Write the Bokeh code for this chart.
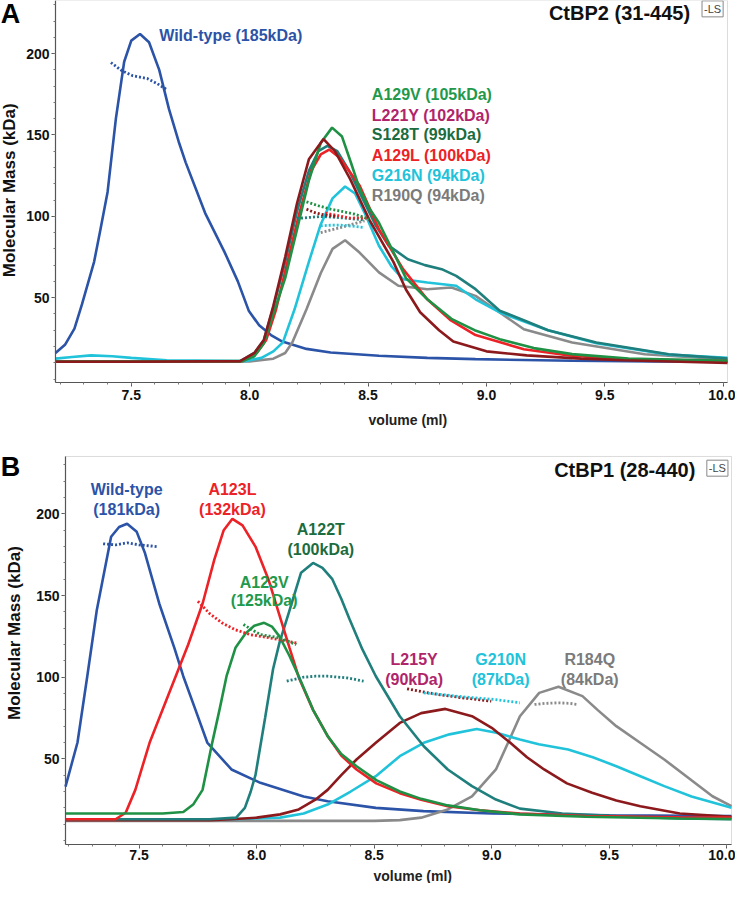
import math
from bokeh.plotting import figure
from bokeh.models import Label, FixedTicker, NumeralTickFormatter, Range1d, BoxAnnotation
from bokeh.layouts import column
from bokeh.embed import file_html
from bokeh.resources import INLINE

# ---------------- Panel A : CtBP2 (31-445) ----------------
a_wt_v = [7.18, 7.22, 7.26, 7.292, 7.343, 7.37, 7.40, 7.435, 7.47, 7.50, 7.537, 7.575, 7.618, 7.659, 7.70, 7.73, 7.812, 7.894, 7.95, 7.996, 8.04, 8.09, 8.138, 8.24, 8.342, 8.546, 8.75, 8.954, 9.362, 9.70, 10.018]
a_wt_m = [16, 21, 31, 46, 72, 92, 115, 160, 195, 208, 212, 207, 190, 166, 146, 133, 102, 78, 60, 42, 33, 27, 23, 18.5, 16.3, 14.3, 13, 12.2, 11.2, 10.8, 10.6]

a_v129v_v = [7.18, 7.5, 7.97, 8.02, 8.06, 8.10, 8.15, 8.20, 8.25, 8.30, 8.348, 8.39, 8.43, 8.464, 8.505, 8.546, 8.607, 8.66, 8.75, 8.852, 8.95, 9.056, 9.20, 9.362, 9.60, 10.018]
a_v129v_m = [10.8, 10.8, 11, 14, 22, 40, 62, 92, 122, 145, 154.5, 149, 132, 117, 105, 96, 78, 62, 49, 37, 30, 24.5, 19, 15.3, 12.5, 11.2]

a_l221y_v = [7.18, 7.5, 7.96, 8.02, 8.06, 8.10, 8.15, 8.20, 8.25, 8.312, 8.36, 8.424, 8.505, 8.607, 8.66, 8.72, 8.80, 8.86, 9.00, 9.17, 9.40, 9.58, 10.018]
a_l221y_m = [10.6, 10.6, 11, 16, 24, 45, 75, 108, 135, 147.5, 140, 123, 98, 72, 55, 41, 30, 23, 17, 14.5, 12.5, 11.5, 9.8]

a_l129l_v = [7.18, 7.5, 7.97, 8.03, 8.07, 8.11, 8.16, 8.21, 8.26, 8.30, 8.336, 8.38, 8.464, 8.546, 8.648, 8.75, 8.85, 8.954, 9.158, 9.35, 9.566, 10.018]
a_l129l_m = [10.8, 10.8, 11, 16, 24, 42, 72, 102, 128, 138, 141, 136, 119, 92, 67.5, 49, 36, 27, 18.3, 14.5, 12.2, 11]

a_s128t_v = [7.18, 7.5, 7.96, 8.02, 8.06, 8.10, 8.15, 8.20, 8.25, 8.29, 8.328, 8.37, 8.42, 8.47, 8.53, 8.587, 8.668, 8.74, 8.811, 8.872, 8.954, 9.056, 9.16, 9.26, 9.464, 9.77, 10.018]
a_s128t_m = [10.8, 10.8, 11, 16, 24, 44, 72, 103, 128, 140, 143.3, 140, 128, 113, 95, 82, 73.6, 70, 67.5, 63.4, 55.2, 42, 36, 30, 22.4, 15.2, 12.5]

a_g216n_v = [7.18, 7.25, 7.33, 7.42, 7.50, 7.65, 7.98, 8.05, 8.10, 8.14, 8.19, 8.25, 8.30, 8.35, 8.403, 8.445, 8.485, 8.546, 8.60, 8.648, 8.75, 8.872, 8.954, 9.056, 9.26, 9.464, 9.77, 10.018]
a_g216n_m = [12.5, 13.5, 14.5, 14, 13, 11.5, 11, 13, 17, 22.4, 43, 72, 95, 111, 118.3, 114, 102.3, 81.9, 69, 61.3, 59.3, 57.3, 49, 40.9, 30, 22, 15, 13]

a_r190q_v = [7.18, 7.5, 8.0, 8.10, 8.15, 8.18, 8.24, 8.30, 8.35, 8.403, 8.464, 8.546, 8.628, 8.75, 8.852, 8.954, 9.056, 9.158, 9.362, 9.668, 10.018]
a_r190q_m = [10.6, 10.6, 10.8, 12.5, 16, 22.4, 42.9, 65, 80, 85.3, 77.7, 65.5, 57.3, 55.2, 56.2, 51.1, 40.9, 30.6, 22.4, 15.2, 12]

# molar mass (dotted) traces, panel A
a_wt_mm_v = [7.414, 7.46, 7.506, 7.567, 7.61, 7.649]
a_wt_mm_m = [194.5, 189.5, 186.4, 184.7, 181.5, 178]
a_v129v_mm_v = [8.24, 8.29, 8.342, 8.39, 8.444, 8.505]
a_v129v_mm_m = [108.9, 106.5, 104.4, 103, 101.3, 98.2]
a_l221y_mm_v = [8.24, 8.27, 8.30, 8.33, 8.363]
a_l221y_mm_m = [104.4, 102.5, 101.3, 100.5, 100]
a_l129l_mm_v = [8.32, 8.37, 8.424, 8.46, 8.495]
a_l129l_mm_m = [102, 100.5, 98.9, 99, 98.9]
a_s128t_mm_v = [8.20, 8.25, 8.30, 8.35, 8.403, 8.445, 8.485]
a_s128t_mm_m = [98.6, 99.3, 99.9, 99.5, 98.9, 98.3, 97.8]
a_g216n_mm_v = [8.30, 8.34, 8.383, 8.43, 8.485]
a_g216n_mm_m = [94.2, 94.5, 94.6, 94, 93.1]
a_r190q_mm_v = [8.30, 8.34, 8.383, 8.43, 8.485]
a_r190q_mm_m = [90, 91.5, 93, 95, 97.2]

a_labels = ["A129V (105kDa)", "L221Y (102kDa)", "S128T (99kDa)", "A129L (100kDa)", "G216N (94kDa)", "R190Q (94kDa)"]
a_wt_label = "Wild-type (185kDa)"

# ---------------- Panel B : CtBP1 (28-440) ----------------
b_wt_v = [7.187, 7.238, 7.279, 7.32, 7.381, 7.415, 7.449, 7.49, 7.525, 7.586, 7.65, 7.688, 7.74, 7.79, 7.893, 8.016, 8.20, 8.302, 8.507, 8.71, 9.0, 9.5, 10.02]
b_wt_m = [33, 60, 100, 141, 186, 192, 194, 189, 176, 145, 118, 100.6, 80, 60, 43.5, 35.3, 27, 24, 20, 18, 16.5, 15.5, 15]

b_a123l_v = [7.187, 7.40, 7.443, 7.484, 7.545, 7.627, 7.709, 7.77, 7.82, 7.86, 7.897, 7.94, 7.995, 8.05, 8.097, 8.14, 8.179, 8.24, 8.302, 8.36, 8.425, 8.509, 8.609, 8.70, 8.813, 8.95, 9.12, 9.40, 9.80, 10.02]
b_a123l_m = [13, 13, 17, 31, 60, 90, 120, 145, 172, 190, 197, 193, 180, 160, 138, 118, 100, 80, 64, 52, 43.5, 35, 29, 25, 21, 18.5, 16.5, 15, 14.2, 14]

b_a123v_v = [7.187, 7.60, 7.688, 7.73, 7.77, 7.811, 7.842, 7.872, 7.91, 7.954, 7.99, 8.032, 8.065, 8.097, 8.14, 8.179, 8.24, 8.302, 8.36, 8.425, 8.509, 8.609, 8.70, 8.813, 8.95, 9.12, 9.40, 9.80, 10.02]
b_a123v_m = [16.5, 16.5, 17.5, 22, 31, 59.8, 80, 100.6, 118, 127, 131.5, 133.3, 131, 125, 113, 100.6, 80, 63.9, 53, 45.5, 37, 30, 25.5, 21.5, 18.5, 16, 14.5, 13.5, 13.2]

b_a122t_v = [7.187, 7.80, 7.913, 7.95, 7.975, 7.995, 8.036, 8.07, 8.097, 8.138, 8.189, 8.24, 8.28, 8.322, 8.36, 8.394, 8.45, 8.507, 8.609, 8.711, 8.813, 8.916, 9.018, 9.12, 9.30, 9.53, 9.80, 10.02]
b_a122t_m = [13, 13, 14, 20, 30, 40, 75, 105, 121, 140, 164, 170, 167, 160, 148, 136, 117, 100.6, 76.1, 57.7, 43.5, 33.3, 25.1, 19.5, 16.5, 14.9, 13.5, 13]

b_l215y_v = [7.187, 7.80, 7.893, 8.0, 8.10, 8.179, 8.25, 8.302, 8.36, 8.425, 8.507, 8.609, 8.70, 8.803, 8.916, 9.0, 9.079, 9.15, 9.223, 9.32, 9.427, 9.53, 9.632, 9.80, 10.02]
b_l215y_m = [12.5, 12.5, 13, 14, 16, 19, 25, 31, 40, 49.6, 59.8, 72, 78, 80.6, 76.1, 69, 59.8, 51, 43.5, 35, 29.2, 24.5, 21, 16.5, 14.5]

b_g210n_v = [7.187, 7.90, 8.10, 8.20, 8.302, 8.40, 8.507, 8.609, 8.711, 8.82, 8.936, 9.02, 9.12, 9.20, 9.325, 9.43, 9.53, 9.63, 9.734, 9.85, 10.02]
b_g210n_m = [13, 13, 14, 16.5, 22, 30, 39.4, 51.6, 59.8, 65, 68.3, 66, 61.8, 59, 55.7, 51, 45.5, 39.5, 33.3, 27, 20]

b_r184q_v = [7.187, 8.50, 8.609, 8.70, 8.813, 8.916, 9.018, 9.07, 9.12, 9.202, 9.284, 9.386, 9.45, 9.53, 9.63, 9.734, 9.84, 9.939, 10.02]
b_r184q_m = [12, 12, 12.5, 14, 19, 27, 43.5, 60, 76.1, 90.4, 94.1, 88.4, 80, 70, 60, 49.6, 38, 27.1, 21]

b_wt_mm_v = [7.347, 7.40, 7.45, 7.50, 7.54, 7.576]
b_wt_mm_m = [181.7, 181, 182.3, 181, 180.5, 179.9]
b_a123l_mm_v = [7.75, 7.80, 7.852, 7.91, 7.975, 8.04, 8.097, 8.169]
b_a123l_mm_m = [146.5, 139, 133.3, 129, 126, 124.5, 123, 121]
b_a123v_mm_v = [7.944, 7.98, 8.016, 8.06, 8.097, 8.169]
b_a123v_mm_m = [132.3, 129, 126.1, 125, 124.1, 120]
b_a122t_mm_v = [8.128, 8.20, 8.25, 8.302, 8.384, 8.455]
b_a122t_mm_m = [97.6, 100, 100.6, 100.6, 99.6, 97.6]
b_l215y_mm_v = [8.64, 8.70, 8.772, 8.875, 8.998]
b_l215y_mm_m = [92.9, 91.2, 89.4, 87.4, 85.3]
b_g210n_mm_v = [8.711, 8.80, 8.875, 9.018, 9.12]
b_g210n_mm_m = [90.4, 89.2, 88, 86.3, 84.3]
b_r184q_mm_v = [9.182, 9.23, 9.284, 9.33, 9.366]
b_r184q_mm_m = [83.3, 84, 84.3, 84, 83.3]

x_ticks = [7.5, 8.0, 8.5, 9.0, 9.5, 10.0]
y_ticks = [50, 100, 150, 200]

# ---------------- styling ----------------
BLUE = "#2b53a7"
RED = "#ec2227"
GREEN = "#1f9145"
TEAL = "#1f7f7d"
MAROON = "#8c1a1c"
CYAN = "#21c3da"
GRAY = "#8a8a8a"
LBL_GREEN = "#22994a"
LBL_DKGREEN = "#1b6c3e"
LBL_MAGENTA = "#b0246a"
LBL_GRAY = "#7b7b7b"

FONT = "Liberation Sans"


def base_fig(width, height, xr, yr, box):
    """Frame covers the whole canvas; axes are pinned to the data box."""
    x0, x1, y0, y1 = box
    p = figure(width=width, height=height, x_range=Range1d(*xr), y_range=Range1d(*yr),
               output_backend="svg", toolbar_location=None,
               min_border_left=0, min_border_right=0, min_border_top=0, min_border_bottom=0)
    p.title.visible = False
    p.grid.visible = False
    p.outline_line_color = None
    minor_x = [round(7.2 + 0.1 * i, 2) for i in range(29)]
    minor_y = [10 * i for i in range(24)]
    p.xaxis.ticker = FixedTicker(ticks=x_ticks, minor_ticks=minor_x)
    p.yaxis.ticker = FixedTicker(ticks=y_ticks, minor_ticks=minor_y)
    p.xaxis.formatter = NumeralTickFormatter(format="0.0")
    p.xaxis.fixed_location = y0
    p.yaxis.fixed_location = x0
    p.xaxis.bounds = (x0, x1)
    p.yaxis.bounds = (y0, y1)
    for ax in (p.xaxis[0], p.yaxis[0]):
        ax.axis_line_color = "#555555"
        ax.axis_line_width = 1.2
        ax.major_tick_line_color = "#555555"
        ax.minor_tick_line_color = "#777777"
        ax.major_tick_in = 0
        ax.major_tick_out = 4
        ax.minor_tick_in = 0
        ax.minor_tick_out = 2
        ax.major_label_text_font = FONT
        ax.major_label_text_font_style = "bold"
        ax.major_label_text_font_size = "14px"
        ax.major_label_text_color = "#111111"
    p.yaxis.major_label_standoff = 2
    p.add_layout(BoxAnnotation(left=x0, right=x1, bottom=y0, top=y1, fill_color=None, fill_alpha=0,
                               line_color="#8a8a8a", line_width=1, level="underlay"))
    return p


def add_text(p, x, y, text, color, size="16px", align="left", style="bold", angle=0.0):
    p.add_layout(Label(x=x, y=y, text=text, text_color=color, text_font=FONT,
                       text_font_size=size, text_font_style=style, text_align=align,
                       text_baseline="middle", angle=angle))


def ls_box(p, x, y):
    p.add_layout(Label(x=x, y=y, text="-LS", text_font=FONT, text_font_size="11px",
                       text_color="#444444", text_align="center", text_baseline="middle",
                       border_line_color="#888888", border_line_width=1,
                       background_fill_color="white", padding=2))


LW = 2.6
DOT = dict(line_dash="2 2", line_width=2.8)

# ---------- Panel A ----------
pA = base_fig(735, 430, (6.9477, 10.0518), (-31.65, 232.64), (7.18, 10.018, -2.15, 232.64))
pA.xaxis.major_label_standoff = 3
pA.line(a_wt_v, a_wt_m, color=BLUE, line_width=LW)
pA.line(a_r190q_v, a_r190q_m, color=GRAY, line_width=LW)
pA.line(a_g216n_v, a_g216n_m, color=CYAN, line_width=LW)
pA.line(a_s128t_v, a_s128t_m, color=TEAL, line_width=LW)
pA.line(a_l129l_v, a_l129l_m, color=RED, line_width=LW)
pA.line(a_v129v_v, a_v129v_m, color=GREEN, line_width=LW)
pA.line(a_l221y_v, a_l221y_m, color=MAROON, line_width=LW)
pA.line(a_wt_mm_v, a_wt_mm_m, color=BLUE, **DOT)
pA.line(a_r190q_mm_v, a_r190q_mm_m, color=GRAY, **DOT)
pA.line(a_g216n_mm_v, a_g216n_mm_m, color=CYAN, **DOT)
pA.line(a_s128t_mm_v, a_s128t_mm_m, color=TEAL, **DOT)
pA.line(a_l129l_mm_v, a_l129l_mm_m, color=RED, **DOT)
pA.line(a_v129v_mm_v, a_v129v_mm_m, color=GREEN, **DOT)
pA.line(a_l221y_mm_v, a_l221y_mm_m, color=MAROON, **DOT)

add_text(pA, 7.618, 211, a_wt_label, BLUE)
a_label_colors = [LBL_GREEN, LBL_MAGENTA, LBL_DKGREEN, RED, CYAN, LBL_GRAY]
a_label_y = [175, 162, 150, 137.5, 125, 113]
for t, c, yy in zip(a_labels, a_label_colors, a_label_y):
    add_text(pA, 8.516, yy, t, c)
add_text(pA, 9.86, 225, "CtBP2 (31-445)", "#111111", size="20px", align="right")
ls_box(pA, 9.955, 227.5)
add_text(pA, 6.99, 224.5, "A", "#000000", size="27px", align="center")
add_text(pA, 6.987, 116, "Molecular Mass (kDa)", "#111111", size="17px", align="center", angle=math.pi / 2)
add_text(pA, 8.668, -24.9, "volume (ml)", "#222222", size="14px", align="center")

# ---------- Panel B ----------
pB = base_fig(735, 453, (6.9105, 10.037), (-26.33, 251.07), (7.187, 10.02, -2.45, 235.15))
pB.xaxis.major_label_standoff = 1
pB.line(b_wt_v, b_wt_m, color=BLUE, line_width=LW)
pB.line(b_r184q_v, b_r184q_m, color=GRAY, line_width=LW)
pB.line(b_g210n_v, b_g210n_m, color=CYAN, line_width=LW)
pB.line(b_l215y_v, b_l215y_m, color=MAROON, line_width=LW)
pB.line(b_a122t_v, b_a122t_m, color=TEAL, line_width=LW)
pB.line(b_a123l_v, b_a123l_m, color=RED, line_width=LW)
pB.line(b_a123v_v, b_a123v_m, color=GREEN, line_width=LW)
pB.line(b_wt_mm_v, b_wt_mm_m, color=BLUE, **DOT)
pB.line(b_a123l_mm_v, b_a123l_mm_m, color=RED, **DOT)
pB.line(b_a123v_mm_v, b_a123v_mm_m, color=GREEN, **DOT)
pB.line(b_a122t_mm_v, b_a122t_mm_m, color=TEAL, **DOT)
pB.line(b_l215y_mm_v, b_l215y_mm_m, color=MAROON, **DOT)
pB.line(b_g210n_mm_v, b_g210n_mm_m, color=CYAN, **DOT)
pB.line(b_r184q_mm_v, b_r184q_mm_m, color=GRAY, **DOT)

b_names = [("Wild-type", "(181kDa)", 7.447, 215, 202.7, BLUE),
           ("A123L", "(132kDa)", 7.897, 215, 202.7, RED),
           ("A122T", "(100kDa)", 8.273, 190.4, 178.2, LBL_DKGREEN),
           ("A123V", "(125kDa)", 8.032, 158, 147, LBL_GREEN),
           ("L215Y", "(90kDa)", 8.67, 110.8, 98.6, LBL_MAGENTA),
           ("G210N", "(87kDa)", 9.038, 110.8, 98.6, CYAN),
           ("R184Q", "(84kDa)", 9.417, 110.8, 98.6, LBL_GRAY)]
for n1, n2, xx, y1, y2, c in b_names:
    add_text(pB, xx, y1, n1, c, align="center")
    add_text(pB, xx, y2, n2, c, align="center")
add_text(pB, 9.866, 227, "CtBP1 (28-440)", "#111111", size="20px", align="right")
ls_box(pB, 9.96, 228)
add_text(pB, 6.953, 229, "B", "#000000", size="27px", align="center")
add_text(pB, 6.97, 127, "Molecular Mass (kDa)", "#111111", size="17px", align="center", angle=math.pi / 2)
add_text(pB, 8.664, -22, "volume (ml)", "#222222", size="14px", align="center")

layout = column(pA, pB, spacing=0)
open("out.html", "w").write(file_html(layout, INLINE))
